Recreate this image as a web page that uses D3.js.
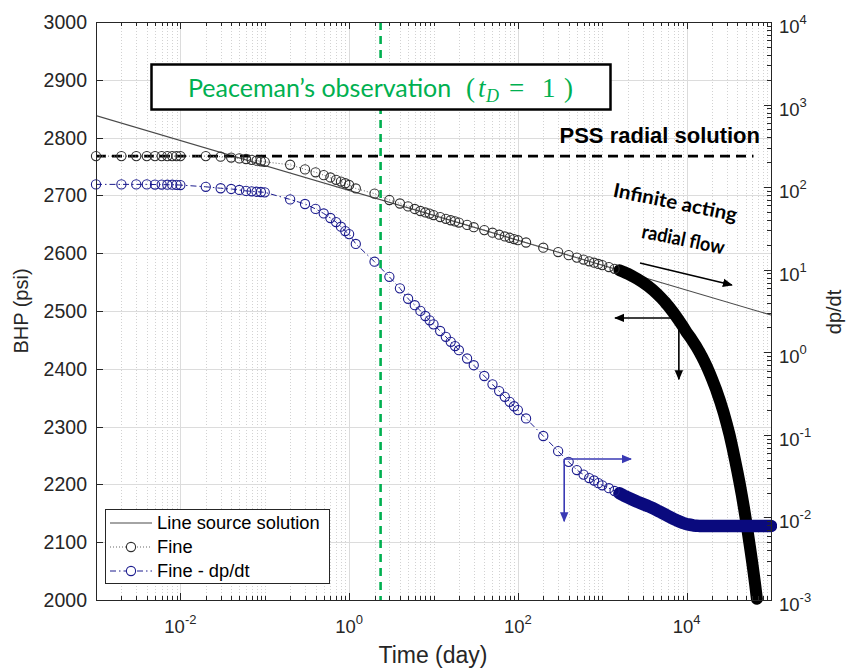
<!DOCTYPE html>
<html><head><meta charset="utf-8">
<script src="https://cdn.jsdelivr.net/npm/d3@7"></script>
<style>
body{margin:0;background:#fff;}
svg{display:block;}
</style></head><body>
<svg id="chart" width="848" height="671"></svg>
<script>
// ---------- data ----------
const lineSourceTime = [0.001, 100000];
const lineSourceBHP  = [2838, 2493];

const pssTime = [0.001, 62000];
const pssBHP  = [2768, 2768];

const peacemanTime = 2.36;

const fineTime = [
  0.001,0.002,0.003,0.004,0.005,0.006,0.007,0.008,0.009,
  0.01,0.02,0.03,0.04,0.05,0.06,0.07,0.08,0.09,
  0.1,0.2,0.3,0.4,0.5,0.6,0.7,0.8,0.9,
  1,1.2,2,3,4,5,6,7,8,9,
  10,12,14,16,18,20,25,30,40,50,60,70,80,90,
  100,125,200,300,400,500,600,700,800,900,
  1000,1200,1400,1600,1800,2000,2300,2600,3000,3500,4000,4500,5000,5500,6000,7000,8000,9000,
  10000,11000,12000,13000,14000,15000,16000,17000,18000,19000,20000,22500,25000,27500,30000,
  32500,35000,37500,40000,42500,45000,47500,50000,52500,55000,57500,60000,62500,65000,67500,68000
];
const fineBHP = [
  2768,2768,2768,2768,2768,2768,2768,2768,2768,
  2768,2768,2767,2765.5,2764,2763,2761.5,2760,2759,
  2758,2753,2745,2740,2735,2731,2727,2724,2721,
  2718,2712,2703,2692,2686,2681,2676.5,2673,2670.5,2668.5,
  2666,2662.5,2659.5,2657,2655,2653,2649,2645,2640,2635.5,2632,2629,2626.7,2624.5,
  2622.5,2618.5,2609.5,2602,2596.6,2592.4,2589,2586,2583.6,2581.4,
  2579.4,2576,2573,2570.5,2567.5,2564.5,2560,2555.5,2550,2543,2536,2529,2522.5,2516,2509.5,2497,2485,2474,
  2463,2455,2446.5,2438.5,2430.5,2422.5,2414.5,2406.5,2398.5,2390.5,2382.5,2363,2343.5,2324,2304,
  2284,2263,2242,2222,2202,2182,2162,2142,2122,2102,2083,2064,2045,2026,2006,2002
];

const dpdtTime = [
  0.001,0.002,0.003,0.004,0.005,0.006,0.007,0.008,0.009,
  0.01,0.02,0.03,0.04,0.05,0.06,0.07,0.08,0.09,
  0.1,0.2,0.3,0.4,0.5,0.6,0.7,0.8,0.9,
  1,1.2,2,3,4,5,6,7,8,9,
  10,12,14,16,18,20,25,30,40,50,60,70,80,90,
  100,125,200,300,400,500,600,700,800,900,
  1000,1200,1400,1600,1800,2000,2300,2600,3000,3500,4000,4500,5000,5500,6000,7000,8000,9000,
  10000,11000,12000,13000,14000,15000,16000,17000,18000,19000,20000,22500,25000,27500,30000,
  35000,40000,45000,50000,55000,60000,65000,70000,75000,80000,85000,90000,95000,100000
];
const dpdtValue = [
  108,108,108,108,107.5,107.5,107,107,106.5,
  106,101,97,95,92.5,90,89,88,87.3,
  86.5,71,62.5,54.5,48,42.3,37.8,33.2,29.4,
  27,20.5,12.5,8.2,5.95,4.45,3.72,3.17,2.75,2.44,
  2.18,1.81,1.54,1.34,1.19,1.06,0.841,0.697,0.516,0.409,0.339,0.289,0.251,0.222,
  0.1995,0.158,0.0969,0.0635,0.0471,0.0375,0.033,0.030,0.028,0.026,
  0.0245,0.0226,0.0209,0.0196,0.0184,0.0175,0.0164,0.0155,0.0146,0.0137,0.0129,0.0121,0.0115,0.0109,0.0104,0.0096,0.0090,0.0086,
  0.0083,0.00815,0.0080,0.00795,0.0079,0.00788,0.00787,0.00787,0.00787,0.00787,0.00787,0.00787,0.00787,0.00787,0.00787,
  0.00787,0.00787,0.00787,0.00787,0.00787,0.00787,0.00787,0.00787,0.00787,0.00787,0.00787,0.00787,0.00787,0.00787
];

const bhpTicks = [2000,2100,2200,2300,2400,2500,2600,2700,2800,2900,3000];
const dpdtTickExp = [-3,-2,-1,0,1,2,3,4];
const timeTickExp = [-2,0,2,4];

const legendLabels = ["Line source solution", "Fine", "Fine - dp/dt"];

// annotation anchors in data units
const radialArrow = {from:[2800, 2583], to:[34400, 2545]};
const bhpPointer  = {at:[8090, 2488], left:1419, down:2382};
const dpdtPointer = {at:[354, 0.0511], right:2193, down:0.0090};

// time from which the simulator output is so dense that the markers merge into a band
const denseFrom = 1600;

// ---------- layout ----------
const plot = {left:96, right:771, top:22, bottom:600};
const x  = d3.scaleLog().domain([1e-3, 1e5]).range([plot.left, plot.right]);
const yL = d3.scaleLinear().domain([2000, 3000]).range([plot.bottom, plot.top]);
const yR = d3.scaleLog().domain([1e-3, 1e4]).range([plot.bottom, plot.top]);

const AX = "#262626";
const BLUE = "#1c1c8e";
const BLUE_BAND = "#0a0a7e";
const BLUE_ARROW = "#3a3ab4";
const GREEN = "#00b050";
const SANS = "'Liberation Sans', Arial, sans-serif";
const CAL = "Lato, 'Open Sans', sans-serif";

const svg = d3.select("#chart");
const defs = svg.append("defs");
defs.append("clipPath").attr("id","seriesClip").append("rect")
  .attr("x", plot.left-6).attr("y", plot.top-6)
  .attr("width", plot.right-plot.left+12).attr("height", plot.bottom-plot.top+12);
defs.append("clipPath").attr("id","plotClip").append("rect")
  .attr("x", plot.left).attr("y", plot.top)
  .attr("width", plot.right-plot.left).attr("height", plot.bottom-plot.top);

function arrowHead(id, color){
  defs.append("marker").attr("id", id)
    .attr("viewBox","0 0 10 10").attr("refX",9).attr("refY",5)
    .attr("markerWidth",10).attr("markerHeight",10)
    .attr("markerUnits","userSpaceOnUse").attr("orient","auto")
    .append("path").attr("d","M0,0.8 L10,5 L0,9.2 Z").attr("fill",color);
}
arrowHead("headBlack","#000");
arrowHead("headBlue",BLUE_ARROW);

// ---------- grid ----------
const grid = svg.append("g").attr("shape-rendering","crispEdges");
const isMajorX = v => timeTickExp.some(e => Math.abs(Math.log10(v) - e) < 1e-6);
const xTicksAll = x.ticks();
grid.selectAll("line.minx").data(xTicksAll.filter(v => !isMajorX(v) && v > 1e-3 && v < 1e5))
  .join("line").attr("x1", d => Math.round(x(d))+0.5).attr("x2", d => Math.round(x(d))+0.5)
  .attr("y1", plot.top).attr("y2", plot.bottom)
  .attr("stroke","#d2d2d2").attr("stroke-width",1).attr("stroke-dasharray","1,2");
grid.selectAll("line.majx").data(timeTickExp.map(e => Math.pow(10,e)))
  .join("line").attr("x1", d => Math.round(x(d))+0.5).attr("x2", d => Math.round(x(d))+0.5)
  .attr("y1", plot.top).attr("y2", plot.bottom)
  .attr("stroke","#dcdcdc").attr("stroke-width",1);
grid.selectAll("line.majy").data(bhpTicks.slice(1,-1))
  .join("line").attr("x1", plot.left).attr("x2", plot.right)
  .attr("y1", d => Math.round(yL(d))+0.5).attr("y2", d => Math.round(yL(d))+0.5)
  .attr("stroke","#dcdcdc").attr("stroke-width",1);

// ---------- series ----------
const series = svg.append("g").attr("clip-path","url(#seriesClip)");
const fine = fineTime.map((t,i) => [t, fineBHP[i]]);
const dpdt = dpdtTime.map((t,i) => [t, dpdtValue[i]]);
const lineL = d3.line().x(d => x(d[0])).y(d => yL(d[1]));
const lineR = d3.line().x(d => x(d[0])).y(d => yR(d[1]));

// line source solution
series.append("path")
  .datum(lineSourceTime.map((t,i) => [t, lineSourceBHP[i]]))
  .attr("d", lineL).attr("fill","none").attr("stroke","#4a4a4a").attr("stroke-width",1.1)
  .attr("clip-path","url(#plotClip)");

// PSS radial solution
series.append("path")
  .datum(pssTime.map((t,i) => [t, pssBHP[i]]))
  .attr("d", lineL).attr("fill","none").attr("stroke","#000").attr("stroke-width",2.6)
  .attr("stroke-dasharray","10,6");

// Fine: dotted connector, merged markers of the dense output, separate markers
series.append("path").datum(fine).attr("d", lineL)
  .attr("fill","none").attr("stroke","#666").attr("stroke-width",1).attr("stroke-dasharray","1,2");
series.append("path").datum(fine.filter(d => d[0] >= denseFrom)).attr("d", lineL)
  .attr("fill","none").attr("stroke","#000").attr("stroke-width",12)
  .attr("stroke-linecap","round").attr("stroke-linejoin","round");
series.selectAll("circle.fine").data(fine.filter(d => d[0] < denseFrom)).join("circle")
  .attr("cx", d => x(d[0])).attr("cy", d => yL(d[1])).attr("r",4.6)
  .attr("fill","none").attr("stroke","#2e2e2e").attr("stroke-width",1.1);

// Fine - dp/dt on the right axis
series.append("path").datum(dpdt).attr("d", lineR)
  .attr("fill","none").attr("stroke",BLUE).attr("stroke-width",1).attr("stroke-dasharray","6,3,1.5,3");
series.append("path").datum(dpdt.filter(d => d[0] >= denseFrom)).attr("d", lineR)
  .attr("fill","none").attr("stroke",BLUE_BAND).attr("stroke-width",12.5)
  .attr("stroke-linecap","round").attr("stroke-linejoin","round");
series.selectAll("circle.dpdt").data(dpdt.filter(d => d[0] < denseFrom)).join("circle")
  .attr("cx", d => x(d[0])).attr("cy", d => yR(d[1])).attr("r",4.6)
  .attr("fill","none").attr("stroke",BLUE).attr("stroke-width",1.1);

// Peaceman time marker
svg.append("line")
  .attr("x1", x(peacemanTime)).attr("x2", x(peacemanTime))
  .attr("y1", plot.top).attr("y2", plot.bottom)
  .attr("stroke",GREEN).attr("stroke-width",2.6).attr("stroke-dasharray","8,6");

// ---------- annotations ----------
const ann = svg.append("g");
ann.append("line")
  .attr("x1", x(radialArrow.from[0])).attr("y1", yL(radialArrow.from[1]))
  .attr("x2", x(radialArrow.to[0])).attr("y2", yL(radialArrow.to[1]))
  .attr("stroke","#000").attr("stroke-width",1.6).attr("marker-end","url(#headBlack)");
ann.append("line")
  .attr("x1", x(bhpPointer.at[0])).attr("y1", yL(bhpPointer.at[1]))
  .attr("x2", x(bhpPointer.left)).attr("y2", yL(bhpPointer.at[1]))
  .attr("stroke","#000").attr("stroke-width",1.6).attr("marker-end","url(#headBlack)");
ann.append("line")
  .attr("x1", x(bhpPointer.at[0])).attr("y1", yL(bhpPointer.at[1]))
  .attr("x2", x(bhpPointer.at[0])).attr("y2", yL(bhpPointer.down))
  .attr("stroke","#000").attr("stroke-width",1.6).attr("marker-end","url(#headBlack)");
ann.append("line")
  .attr("x1", x(dpdtPointer.at[0])).attr("y1", yR(dpdtPointer.at[1]))
  .attr("x2", x(dpdtPointer.right)).attr("y2", yR(dpdtPointer.at[1]))
  .attr("stroke",BLUE_ARROW).attr("stroke-width",1.6).attr("marker-end","url(#headBlue)");
ann.append("line")
  .attr("x1", x(dpdtPointer.at[0])).attr("y1", yR(dpdtPointer.at[1]))
  .attr("x2", x(dpdtPointer.at[0])).attr("y2", yR(dpdtPointer.down))
  .attr("stroke",BLUE_ARROW).attr("stroke-width",1.6).attr("marker-end","url(#headBlue)");

// Peaceman box
ann.append("rect").attr("x",151.5).attr("y",64.5).attr("width",459).attr("height",45)
  .attr("fill","#fff").attr("stroke","#000").attr("stroke-width",2.5);
ann.append("text").attr("x",188).attr("y",97)
  .attr("font-family",CAL).attr("font-size",25).attr("fill",GREEN)
  .text("Peaceman\u2019s observation");
const math = ann.append("text").attr("y",97)
  .attr("font-family","'Liberation Serif', 'DejaVu Serif', serif").attr("font-size",27).attr("fill",GREEN);
math.append("tspan").attr("x",466).text("(");
math.append("tspan").attr("x",478).attr("font-style","italic").text("t");
math.append("tspan").attr("x",486).attr("dy",5).attr("font-size",18).attr("font-style","italic").text("D");
math.append("tspan").attr("x",509).attr("dy",-5).text("=");
math.append("tspan").attr("x",542).text("1");
math.append("tspan").attr("x",564).text(")");

ann.append("text").attr("x",760).attr("y",143).attr("text-anchor","end")
  .attr("font-family",SANS).attr("font-weight","bold").attr("font-size",22).attr("fill","#000")
  .text("PSS radial solution");

ann.append("text").attr("transform","translate(674,209) rotate(11.5)").attr("text-anchor","middle")
  .attr("font-family",CAL).attr("font-weight","bold").attr("font-size",19.5)
  .attr("textLength",126).attr("lengthAdjust","spacingAndGlyphs")
  .text("Infinite acting");
ann.append("text").attr("transform","translate(682,246) rotate(11.5)").attr("text-anchor","middle")
  .attr("font-family",CAL).attr("font-weight","bold").attr("font-size",19.5)
  .attr("textLength",84).attr("lengthAdjust","spacingAndGlyphs")
  .text("radial flow");

// ---------- axes ----------
const axes = svg.append("g").attr("shape-rendering","crispEdges");
axes.append("rect").attr("x",plot.left+0.5).attr("y",plot.top+0.5)
  .attr("width",plot.right-plot.left).attr("height",plot.bottom-plot.top)
  .attr("fill","none").attr("stroke",AX).attr("stroke-width",1);

// x ticks (bottom + top, inward)
xTicksAll.filter(v => v > 1e-3 && v < 1e5).forEach(v => {
  const len = isMajorX(v) ? 7 : 4;
  const xx = Math.round(x(v))+0.5;
  axes.append("line").attr("x1",xx).attr("x2",xx).attr("y1",plot.bottom).attr("y2",plot.bottom-len).attr("stroke",AX);
  axes.append("line").attr("x1",xx).attr("x2",xx).attr("y1",plot.top).attr("y2",plot.top+len).attr("stroke",AX);
});
// left ticks
bhpTicks.forEach(v => {
  const yy = Math.round(yL(v))+0.5;
  axes.append("line").attr("x1",plot.left).attr("x2",plot.left+7).attr("y1",yy).attr("y2",yy).attr("stroke",AX);
});
// right ticks
yR.ticks().forEach(v => {
  const major = dpdtTickExp.some(e => Math.abs(Math.log10(v)-e) < 1e-6);
  const yy = Math.round(yR(v))+0.5;
  axes.append("line").attr("x1",plot.right).attr("x2",plot.right-(major?7:4)).attr("y1",yy).attr("y2",yy).attr("stroke",AX);
});

const labels = svg.append("g").attr("font-family",SANS).attr("fill",AX);
bhpTicks.forEach(v => {
  labels.append("text").attr("x",87).attr("y",yL(v)+7).attr("text-anchor","end")
    .attr("font-size",19.5).text(v);
});
timeTickExp.forEach(e => {
  const t = labels.append("text").attr("x",x(Math.pow(10,e))).attr("y",633)
    .attr("text-anchor","middle").attr("font-size",18.5);
  t.append("tspan").text("10");
  t.append("tspan").attr("dy",-9).attr("font-size",13).text(e < 0 ? "-" + (-e) : e);
});
dpdtTickExp.forEach(e => {
  const t = labels.append("text").attr("x",779).attr("y",yR(Math.pow(10,e))+11)
    .attr("font-size",18.5);
  t.append("tspan").text("10");
  t.append("tspan").attr("dy",-9).attr("font-size",13).text(e < 0 ? "-" + (-e) : e);
});
labels.append("text").attr("transform","translate(28,311) rotate(-90)").attr("text-anchor","middle")
  .attr("font-size",20).text("BHP (psi)");
labels.append("text").attr("transform","translate(841,312) rotate(-90)").attr("text-anchor","middle")
  .attr("font-size",20).text("dp/dt");
labels.append("text").attr("x",433).attr("y",663).attr("text-anchor","middle")
  .attr("font-size",23).text("Time (day)");

// ---------- legend ----------
const lg = svg.append("g");
lg.append("rect").attr("x",105.5).attr("y",509.5).attr("width",224).attr("height",74)
  .attr("fill","#fff").attr("stroke",AX).attr("stroke-width",1).attr("shape-rendering","crispEdges");
const rowY = [523, 547, 571];
lg.append("line").attr("x1",110).attr("x2",152).attr("y1",rowY[0]).attr("y2",rowY[0])
  .attr("stroke","#4a4a4a").attr("stroke-width",1.1);
lg.append("line").attr("x1",110).attr("x2",152).attr("y1",rowY[1]).attr("y2",rowY[1])
  .attr("stroke","#666").attr("stroke-dasharray","1,2");
lg.append("circle").attr("cx",131).attr("cy",rowY[1]).attr("r",4.6)
  .attr("fill","#fff").attr("stroke","#2e2e2e").attr("stroke-width",1.1);
lg.append("line").attr("x1",110).attr("x2",152).attr("y1",rowY[2]).attr("y2",rowY[2])
  .attr("stroke",BLUE).attr("stroke-dasharray","6,3,1.5,3");
lg.append("circle").attr("cx",131).attr("cy",rowY[2]).attr("r",4.6)
  .attr("fill","#fff").attr("stroke",BLUE).attr("stroke-width",1.1);
legendLabels.forEach((s,i) => {
  lg.append("text").attr("x",157).attr("y",rowY[i]+6).attr("font-family",SANS)
    .attr("font-size",18.3).attr("fill","#000").text(s);
});
</script></body></html>
